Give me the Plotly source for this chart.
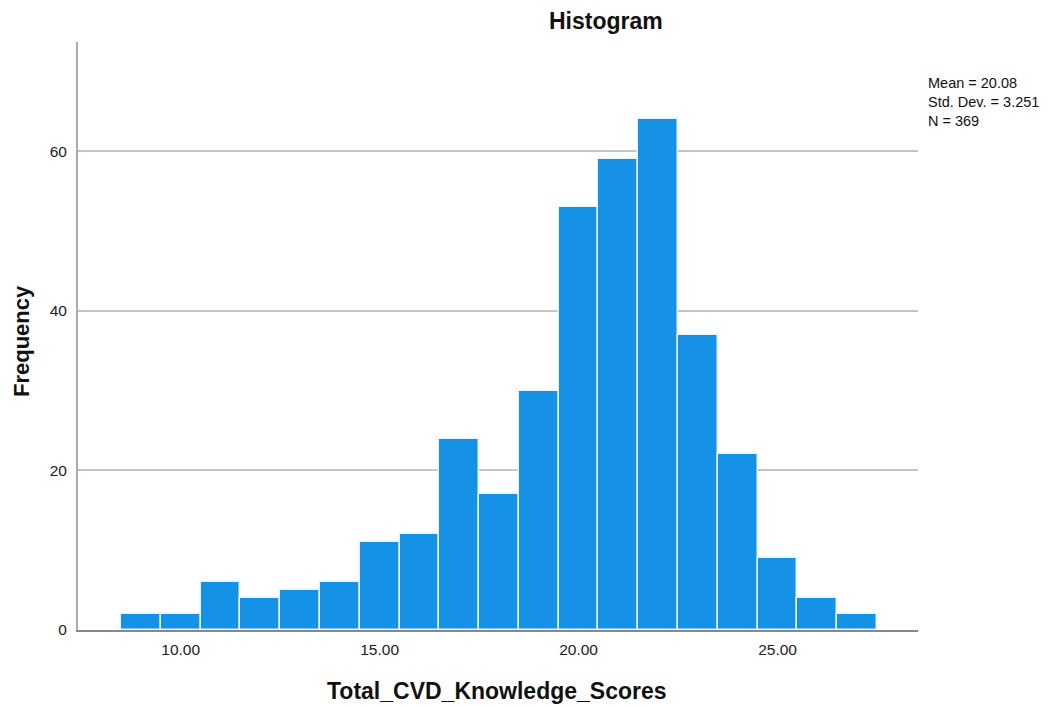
import plotly.graph_objects as go

bin_centers = [9, 10, 11, 12, 13, 14, 15, 16, 17, 18, 19, 20, 21, 22, 23, 24, 25, 26, 27]
frequencies = [2, 2, 6, 4, 5, 6, 11, 12, 24, 17, 30, 53, 59, 64, 37, 22, 9, 4, 2]
x_ticks = [10, 15, 20, 25]
x_tick_labels = ["10.00", "15.00", "20.00", "25.00"]
y_ticks = [0, 20, 40, 60]
stats_lines = ["Mean = 20.08", "Std. Dev. = 3.251", "N = 369"]

FONT = "Liberation Sans, Arial, sans-serif"
W, H = 1052, 706
ML, MR, MT, MB = 78, 134, 42, 76
PW, PH = W - ML - MR, H - MT - MB


def px_x(x):
    return (x - ML) / PW


def px_y(y):
    return (H - MB - y) / PH


fig = go.Figure()
fig.add_trace(go.Bar(
    x=bin_centers, y=frequencies, width=1,
    marker=dict(color="#1591E6", line=dict(color="#E8F3FC", width=1.5)),
    hoverinfo="x+y",
))

annotations = [
    dict(text="<b>Histogram</b>", x=px_x(606), y=px_y(21), xanchor="center", yanchor="middle",
         font=dict(size=23, family=FONT, color="#111111")),
    dict(text="<b>Total_CVD_Knowledge_Scores</b>", x=px_x(497), y=px_y(691), xanchor="center", yanchor="middle",
         font=dict(size=23, family=FONT, color="#111111")),
    dict(text="<b>Frequency</b>", x=px_x(21), y=px_y(341), xanchor="center", yanchor="middle", textangle=-90,
         font=dict(size=22, family=FONT, color="#111111")),
    dict(text="<br>".join(stats_lines), x=px_x(926), y=px_y(73), xanchor="left", yanchor="top",
         align="left", font=dict(size=14.5, family=FONT, color="#111111")),
]
for a in annotations:
    a.update(xref="paper", yref="paper", showarrow=False)

fig.update_layout(
    width=W, height=H,
    margin=dict(l=ML, r=MR, t=MT, b=MB, autoexpand=False),
    plot_bgcolor="white", paper_bgcolor="white",
    showlegend=False,
    bargap=0,
    font=dict(family=FONT, color="#222222"),
    xaxis=dict(
        range=[7.42, 28.53], automargin=False,
        tickvals=x_ticks, ticktext=x_tick_labels,
        showgrid=False, zeroline=False,
        showline=True, linecolor="#888888", linewidth=2,
        ticks="", ticklabelstandoff=4,
        tickfont=dict(size=15.5, family=FONT, color="#222222"),
    ),
    yaxis=dict(
        range=[0, 73.7], automargin=False,
        tickvals=y_ticks,
        showgrid=True, gridcolor="#C4C4C4", gridwidth=1.5,
        zeroline=False,
        showline=True, linecolor="#AAAAAA", linewidth=2,
        ticks="", ticklabelstandoff=6,
        tickfont=dict(size=15.5, family=FONT, color="#222222"),
    ),
    annotations=annotations,
)

fig.write_html("out.html", config={"displayModeBar": False},
               post_script="document.body.style.margin='0';document.body.style.overflow='hidden';")
